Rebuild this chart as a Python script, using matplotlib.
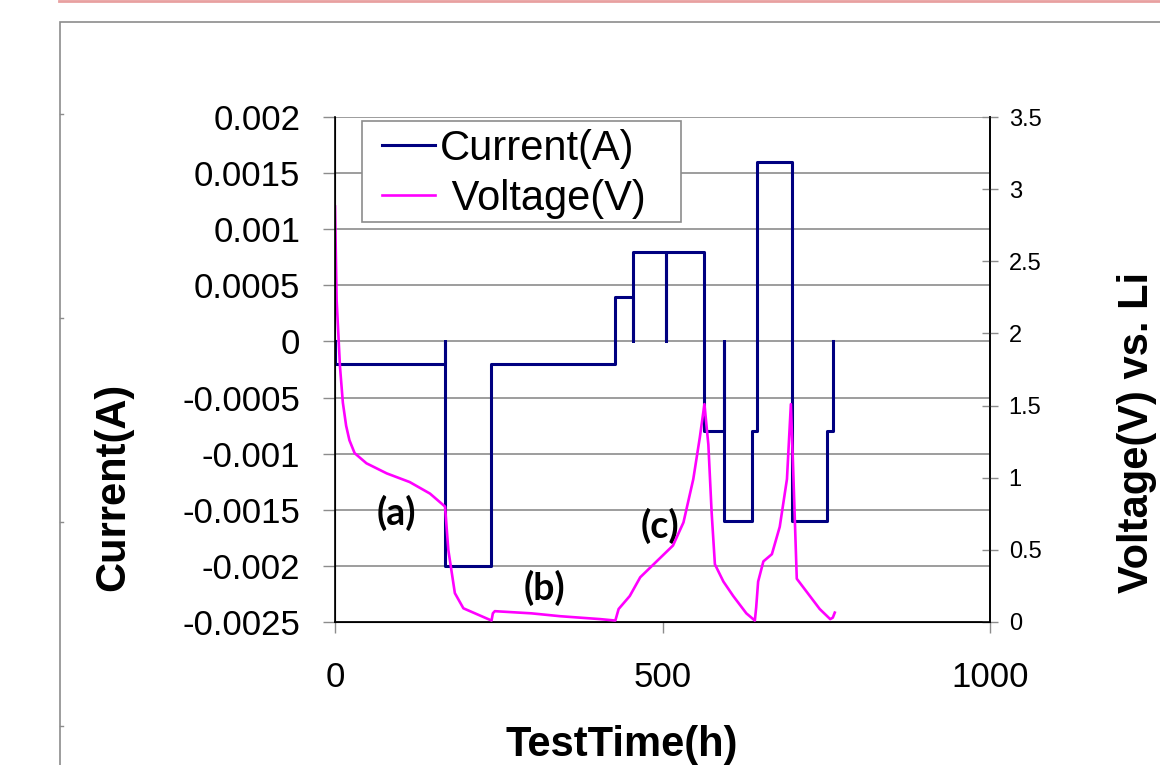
import matplotlib.pyplot as plt
from matplotlib.lines import Line2D
from matplotlib.patches import Rectangle

plt.rcParams['font.family'] = ['Liberation Sans', 'DejaVu Sans']

# current steps (steps-post): each value holds until the next time
step_time_h = [0, 0, 168, 168, 238, 428, 455, 455, 505, 505, 564, 594, 594,
               636, 644, 697, 751, 761]
step_current_a = [0, -0.0002, 0, -0.002, -0.0002, 0.0004, 0, 0.0008, 0, 0.0008,
                  -0.0008, 0, -0.0016, -0.0008, 0.0016, -0.0016, -0.0008, 0]

# cell voltage vs Li
volt_time_h = [0, 2.5, 7.6, 12, 17, 22, 30, 48, 79, 114, 145, 168, 173, 183, 196,
               239, 241, 244, 300, 344, 405, 428, 433, 450, 466, 491, 516,
               532, 547, 557, 564, 570, 575, 580, 593, 608, 628, 641, 643,
               646, 654, 667, 679, 690, 696, 700, 705, 720, 740, 756, 760, 763]
voltage_v = [2.88, 2.23, 1.77, 1.52, 1.36, 1.26, 1.17, 1.10, 1.03, 0.97, 0.89, 0.80,
             0.50, 0.20, 0.095, 0.01, 0.06, 0.075, 0.06, 0.04, 0.02, 0.01,
             0.09, 0.18, 0.31, 0.42, 0.53, 0.69, 0.99, 1.28, 1.51, 1.23, 0.76,
             0.40, 0.28, 0.18, 0.06, 0.01, 0.1, 0.28, 0.42, 0.47, 0.66, 0.99,
             1.51, 0.99, 0.30, 0.21, 0.09, 0.02, 0.03, 0.065]

cur_ticks = [-0.0025, -0.002, -0.0015, -0.001, -0.0005, 0, 0.0005, 0.001, 0.0015, 0.002]
cur_labels = ['-0.0025', '-0.002', '-0.0015', '-0.001', '-0.0005', '0',
              '0.0005', '0.001', '0.0015', '0.002']
volt_ticks = [0, 0.5, 1, 1.5, 2, 2.5, 3, 3.5]
volt_labels = ['0', '0.5', '1', '1.5', '2', '2.5', '3', '3.5']
time_ticks = [0, 500, 1000]

W, H = 1160, 765
fig = plt.figure(figsize=(W / 100, H / 100), dpi=100)

# outer frame and top rule
fig.add_artist(Rectangle((60 / W, -0.01), 1.1, 1 - 22 / H + 0.01, transform=fig.transFigure,
                         fill=False, edgecolor='#8c8c8c', lw=1.2))
fig.add_artist(Line2D([59 / W, 1], [1 - 1 / H, 1 - 1 / H], transform=fig.transFigure,
                      color='#e8a0a0', lw=2))
for yy in [114, 318, 522, 726]:
    fig.add_artist(Line2D([60 / W, 63 / W], [1 - yy / H, 1 - yy / H],
                          transform=fig.transFigure, color='#8c8c8c', lw=1))

ax = fig.add_axes([335 / W, 1 - 622 / H, (990 - 335) / W, (622 - 117) / H])
ax.set_xlim(0, 1000)
ax.set_ylim(-0.0025, 0.002)
ax.set_yticks(cur_ticks)
ax.set_yticklabels(cur_labels)
ax.set_xticks(time_ticks)
ax.grid(axis='y', color='#8c8c8c', lw=1.2)
ax.set_axisbelow(True)
for s in ['left', 'bottom', 'right']:
    ax.spines[s].set_color('black')
    ax.spines[s].set_linewidth(1.2)
ax.spines['top'].set_visible(False)
ax.tick_params(axis='y', direction='out', length=9, width=1, color='#8c8c8c',
               labelsize=25, pad=16)
ax.tick_params(axis='x', direction='out', length=8, width=1, color='#8c8c8c',
               labelsize=25, pad=20)

cur_line, = ax.plot(step_time_h, step_current_a, drawstyle='steps-post',
                    color='#000080', lw=2.2)

ax2 = ax.twinx()
ax2.set_ylim(0, 3.5)
ax2.set_yticks(volt_ticks)
ax2.set_yticklabels(volt_labels)
ax2.tick_params(axis='y', direction='inout', length=11, width=1, color='#8c8c8c',
                labelsize=17, pad=8)
ax2.spines['top'].set_visible(False)
ax2.spines['right'].set_color('black')
ax2.spines['right'].set_linewidth(1.2)
volt_line, = ax2.plot(volt_time_h, voltage_v, color='#ff00ff', lw=1.9)

# legend box drawn separately so its size can be set directly
fig.add_artist(Rectangle((362 / W, 1 - 222 / H), (681 - 362) / W, (222 - 121) / H,
                         transform=fig.transFigure, facecolor='white',
                         edgecolor='#8c8c8c', lw=1.2, zorder=5))
leg = fig.legend([cur_line, volt_line], ['Current(A)', ' Voltage(V)'],
                 loc='upper left', bbox_to_anchor=(382 / W, 1 - 129 / H),
                 fontsize=30, frameon=False, handlelength=1.27,
                 handletextpad=0.12, borderpad=0, labelspacing=0.24,
                 borderaxespad=0)
leg.set_zorder(6)

ann = dict(fontsize=27, fontweight='bold', family='Lato', ha='center', va='center')
ax.text(93, -0.00153, '(a)', **ann)
ax.text(320, -0.0022, '(b)', **ann)
ax.text(496, -0.00164, '(c)', **ann)

fig.text(113 / W, 1 - 487 / H, 'Current(A)', rotation=90, fontsize=30,
         fontweight='bold', ha='center', va='center')
fig.text(622 / W, 1 - 745 / H, 'TestTime(h)', fontsize=30,
         fontweight='bold', ha='center', va='center')
fig.text(1137 / W, 1 - 432 / H, 'Voltage(V) vs. Li', rotation=90, fontsize=30,
         fontweight='bold', ha='center', va='center')

fig.savefig('out.png', dpi=100)
